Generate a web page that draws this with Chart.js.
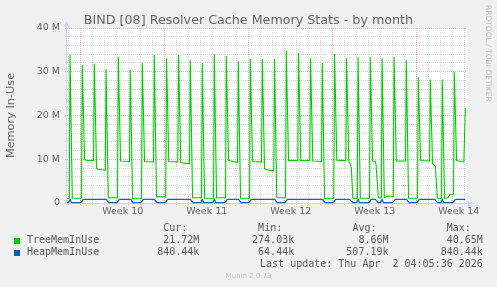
<!DOCTYPE html>
<html><head><meta charset="utf-8">
<script src="https://cdn.jsdelivr.net/npm/chart.js@4.4.1/dist/chart.umd.min.js"></script>
<style>
html,body{margin:0;padding:0;background:#f0f0f0;}
#wrap{position:relative;width:497px;height:287px;overflow:hidden;background:#f0f0f0;}
#c{position:absolute;left:0;top:0;}
.mono{position:absolute;white-space:pre;font-family:'DejaVu Sans Mono',monospace;font-size:10px;line-height:12px;color:#5a5a5a;}
#title{position:absolute;left:0;top:12.4px;width:497px;text-align:center;font-family:'DejaVu Sans',sans-serif;font-size:12.7px;line-height:15px;color:#666;white-space:pre;}
#munin{position:absolute;left:0;top:272.4px;width:497px;text-align:center;font-family:'DejaVu Sans',sans-serif;font-size:7px;line-height:9px;color:#c4c4c4;}
#rrd{position:absolute;left:483.5px;top:5px;writing-mode:vertical-rl;font-family:'DejaVu Sans',sans-serif;font-size:7.5px;line-height:9px;color:#c0c0c0;white-space:pre;}
.sw{position:absolute;width:6px;height:6px;}
</style></head><body>
<div id="wrap">
<canvas id="c" width="497" height="287"></canvas>
<div id="title">BIND [08] Resolver Cache Memory Stats - by month</div>
<div id="rrd">RRDTOOL / TOBI OETIKER</div>
<div id="munin">Munin 2.0.73</div>
</div>
<script>
// ---- data (days relative to Monday of Week 10; values in millions) ----
const treeDays = [-1.14,
 -0.95,-0.89,-0.70,
 0.07,0.13,0.32,0.60,1.07,
 1.13,1.32,1.45,2.05,
 2.11,2.30,3.07,
 3.13,3.32,4.07,
 4.13,4.32,5.07,
 5.13,5.32,6.07,
 6.13,6.32,7.09,
 7.15,7.34,8.09,
 8.15,8.34,9.07,
 9.13,9.32,10.07,
 10.13,10.32,11.07,
 11.13,11.32,12.07,
 12.13,12.32,12.70,13.07,
 13.13,13.32,14.07,
 14.13,14.32,15.07,
 15.13,15.32,15.50,16.09,
 16.15,16.34,17.07,
 17.13,17.32,18.09,
 18.15,18.34,19.09,
 19.15,19.34,20.07,
 20.13,20.32,21.09,
 21.15,21.34,22.09,
 22.15,22.34,22.45,22.55,22.68,23.05,
 23.11,23.30,24.07,
 24.13,24.32,24.55,24.61,24.80,25.05,
 25.11,25.30,25.60,26.05,
 26.11,26.30,27.07,
 27.13,27.32,28.07,
 28.13,28.32,29.07,
 29.13,29.32,29.55,29.72,30.07,
 30.13,30.32,30.60,30.75,31.07,
 31.13,31.32,31.70,31.93,32.05];
const treeMem = [1.1,
 1.1,33.9,1.1,
 1.1,31.6,9.9,9.7,9.7,
 31.9,8.0,7.7,7.5,
 30.6,1.2,1.2,
 33.4,9.6,9.5,
 30.4,1.1,1.1,
 32.0,9.5,9.4,
 33.9,1.4,1.4,
 33.1,9.5,9.4,
 33.9,9.2,9.0,
 32.7,1.2,1.2,
 32.0,1.1,1.1,
 34.0,1.2,1.2,
 33.6,9.7,9.5,9.3,
 32.5,1.1,1.1,
 32.9,9.5,9.4,
 32.9,7.8,7.6,7.3,
 32.9,1.2,1.2,
 34.8,9.7,9.7,
 34.3,9.7,9.7,
 33.1,9.6,9.5,
 32.0,1.1,1.1,
 34.1,9.8,9.7,
 33.1,9.5,9.0,8.1,1.1,1.1,
 33.3,1.1,1.1,
 33.4,9.6,9.5,8.8,1.2,1.2,
 33.1,1.2,1.6,1.5,
 33.4,9.6,9.6,
 32.7,1.1,1.1,
 28.8,9.7,9.6,
 28.2,9.0,8.4,1.1,1.1,
 28.2,1.1,1.2,1.9,1.9,
 30.0,9.7,9.5,9.4,21.7];
const heapDays = [-1.14,
 -1.01,-0.89,-0.77,
 0.01,0.23,
 2.13,2.33,
 3.01,3.23,
 4.15,4.35,
 5.01,5.23,
 6.15,6.35,
 7.03,7.25,
 9.15,9.35,
 10.01,10.13,10.25,
 11.01,11.13,11.25,
 12.01,12.23,
 13.15,13.35,
 14.01,14.23,
 16.17,16.37,
 17.01,17.23,
 20.15,20.35,
 21.03,21.25,
 22.40,22.68,
 22.99,23.11,23.23,
 24.01,24.23,24.55,24.78,
 24.99,25.11,25.23,
 25.99,26.21,
 27.15,27.35,
 28.01,28.23,
 29.50,29.72,
 30.01,30.13,30.25,
 31.01,31.23,
 32.05];
const heapMem = [0.1,
 0.1,0.8,0.1,
 0.1,0.82,
 0.82,0.1,
 0.1,0.82,
 0.82,0.1,
 0.1,0.82,
 0.82,0.1,
 0.1,0.82,
 0.82,0.1,
 0.1,0.8,0.1,
 0.1,0.8,0.1,
 0.1,0.82,
 0.82,0.1,
 0.1,0.82,
 0.82,0.1,
 0.1,0.82,
 0.82,0.1,
 0.1,0.82,
 0.82,0.1,
 0.1,0.8,0.1,
 0.1,0.82,0.82,0.1,
 0.1,0.8,0.1,
 0.1,0.82,
 0.82,0.1,
 0.1,0.82,
 0.82,0.1,
 0.1,0.8,0.1,
 0.1,0.82,
 0.84];
const weekMid = [3.5, 10.5, 17.5, 24.5, 31.5];
const weekLabels = ['Week 10','Week 11','Week 12','Week 13','Week 14'];
const yTickLabels = ['0','10 M','20 M','30 M','40 M'];
const seriesNames = ['TreeMemInUse','HeapMemInUse'];
const statHeads = ['Cur:','Min:','Avg:','Max:'];
const curVals = ['21.72M','840.44k'];
const minVals = ['274.03k','64.44k'];
const avgVals = ['8.66M','507.19k'];
const maxVals = ['40.65M','840.44k'];
const lastUpdate = 'Last update: Thu Apr  2 04:05:36 2026';

// ---- styling / layout ----
const GREEN = '#00CC00', BLUE = '#0066B3';
const GRID = 'rgba(143,143,143,0.33)', MGRID = 'rgba(222,79,79,0.42)';
const AXIS = '#CFD6F8';
const xMin = -1.142, xMax = 32.19;

Chart.defaults.font.family = "'DejaVu Sans', sans-serif";
Chart.defaults.color = '#666';

const bgPlugin = {
  id: 'bg',
  beforeDraw(chart) {
    const {ctx, chartArea: a} = chart;
    ctx.save(); ctx.fillStyle = '#ffffff';
    ctx.fillRect(a.left, a.top, a.right - a.left, a.bottom - a.top);
    ctx.restore();
  },
  beforeDatasetsDraw(chart) {
    const {ctx, chartArea: a} = chart;
    ctx.save();
    ctx.strokeStyle = AXIS; ctx.fillStyle = AXIS; ctx.lineWidth = 1;
    ctx.beginPath();
    ctx.moveTo(a.left - 0.5, a.bottom + 2); ctx.lineTo(a.left - 0.5, a.top - 4);
    ctx.moveTo(a.left - 3, a.bottom + 0.5); ctx.lineTo(a.right + 3, a.bottom + 0.5);
    ctx.stroke();
    ctx.beginPath();
    ctx.moveTo(a.left - 0.5, a.top - 7); ctx.lineTo(a.left - 3.5, a.top - 1); ctx.lineTo(a.left + 2.5, a.top - 1); ctx.closePath(); ctx.fill();
    ctx.beginPath();
    ctx.moveTo(a.right + 7, a.bottom + 0.5); ctx.lineTo(a.right + 1, a.bottom - 2.5); ctx.lineTo(a.right + 1, a.bottom + 3.5); ctx.closePath(); ctx.fill();
    ctx.restore();
  }
};

function xGridColor(ctx) {
  const v = ctx.tick && ctx.tick.value;
  if (!Number.isInteger(v)) return 'rgba(0,0,0,0)';
  return v % 7 === 0 ? MGRID : GRID;
}
function yGridColor(ctx) {
  const v = ctx.tick && ctx.tick.value;
  if (v === 0) return 'rgba(0,0,0,0)';
  return v % 10 === 0 ? MGRID : GRID;
}

new Chart(document.getElementById('c'), {
  type: 'line',
  data: {
    datasets: [
      { label: seriesNames[1], data: heapDays.map((d, i) => ({x: d, y: heapMem[i]})),
        borderColor: BLUE, borderWidth: 1.2, pointRadius: 0, tension: 0, fill: false, clip: false, order: 0 },
      { label: seriesNames[0], data: treeDays.map((d, i) => ({x: d, y: treeMem[i]})),
        borderColor: GREEN, borderWidth: 1.1, pointRadius: 0, tension: 0, fill: false, order: 1 }
    ]
  },
  options: {
    responsive: false, animation: false, devicePixelRatio: 1,
    layout: { padding: { left: 0, right: 30, top: 28, bottom: 0 } },
    plugins: { legend: { display: false }, tooltip: { enabled: false }, title: { display: false } },
    scales: {
      x: {
        type: 'linear', min: xMin, max: xMax,
        afterBuildTicks: (s) => {
          const t = [];
          for (let d = Math.ceil(xMin); d <= Math.floor(xMax); d++) t.push(d);
          weekMid.forEach(v => t.push(v));
          t.sort((a, b) => a - b);
          s.ticks = t.map(v => ({value: v}));
        },
        afterFit: (s) => { s.height = 84; },
        grid: { color: xGridColor, lineWidth: 1, drawTicks: true, tickLength: 2, tickColor: xGridColor },
        border: { display: false, dash: [1, 1] },
        ticks: { autoSkip: false, maxRotation: 0, minRotation: 0, padding: 1, color: '#666',
          font: { size: 9.5 },
          callback: (v) => { const i = weekMid.indexOf(v); return i >= 0 ? weekLabels[i] : ''; } }
      },
      y: {
        type: 'linear', min: 0, max: 40,
        afterBuildTicks: (s) => {
          const t = [];
          for (let v = 0; v <= 40; v += 2) t.push({value: v});
          s.ticks = t;
        },
        afterFit: (s) => { s.width = 67; },
        grid: { color: yGridColor, lineWidth: 1, drawTicks: true, tickLength: 2, tickColor: yGridColor },
        border: { display: false, dash: [1, 1] },
        ticks: { autoSkip: false, padding: 5, color: '#666', font: { size: 9.5 },
          callback: (v) => v % 10 === 0 ? yTickLabels[v / 10] : '' },
        title: { display: true, text: 'Memory In-Use', color: '#666', font: { size: 11.3 }, padding: { top: 4.2, bottom: 0 } }
      }
    }
  },
  plugins: [bgPlugin]
});

// ---- legend (text) ----
const wrap = document.getElementById('wrap');
const colRight = [199.3, 294.2, 388.5, 482.8];
const headTop = 221.5, rowTops = [233.8, 246.2], lastTop = 257.8;
function addText(txt, opts) {
  const d = document.createElement('div');
  d.className = 'mono'; d.textContent = txt;
  Object.keys(opts).forEach(k => d.style[k] = opts[k]);
  wrap.appendChild(d);
}
statHeads.forEach((h, i) => addText(h, { right: (497 - colRight[i] + 12) + 'px', top: headTop + 'px' }));
const cols = [curVals, minVals, avgVals, maxVals];
const swColors = [GREEN, BLUE];
seriesNames.forEach((n, r) => {
  const sw = document.createElement('div');
  sw.className = 'sw'; sw.style.left = '14px'; sw.style.top = (rowTops[r] + 3.8) + 'px';
  sw.style.background = swColors[r]; wrap.appendChild(sw);
  addText(n, { left: '27px', top: rowTops[r] + 'px' });
  cols.forEach((c, i) => addText(c[r], { right: (497 - colRight[i]) + 'px', top: rowTops[r] + 'px' }));
});
addText(lastUpdate, { right: (497 - colRight[3]) + 'px', top: lastTop + 'px' });
</script>
</body></html>
